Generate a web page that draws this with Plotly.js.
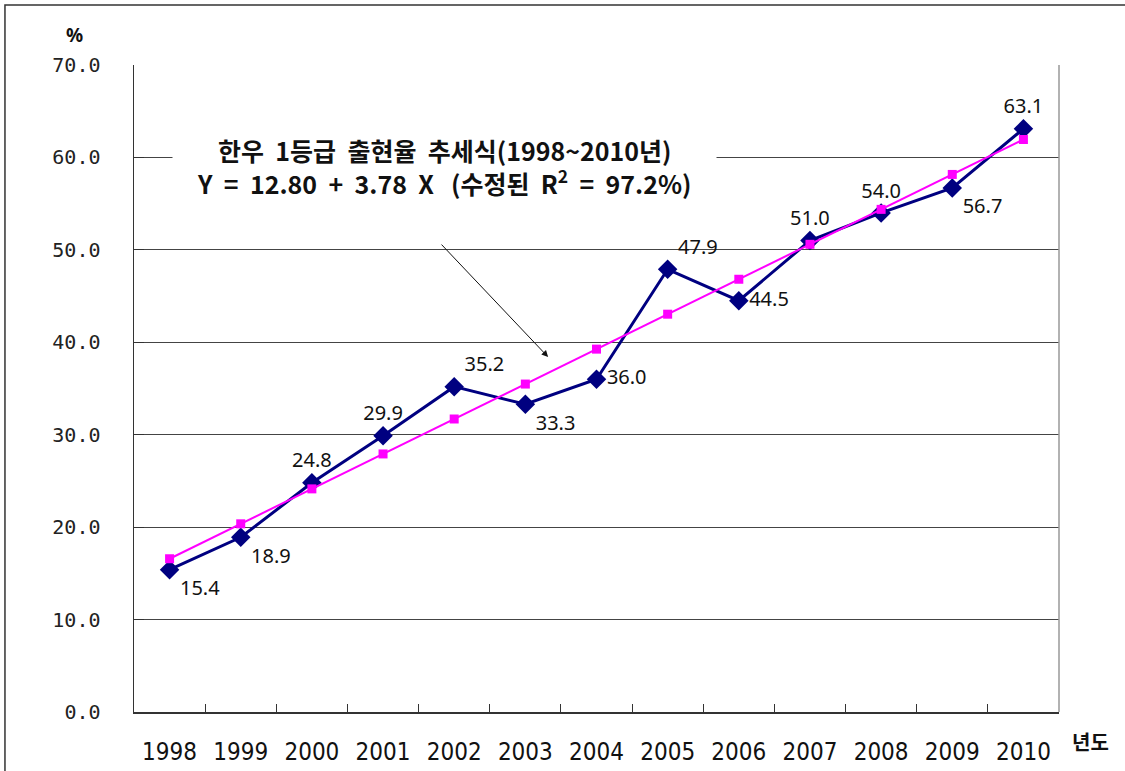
<!DOCTYPE html>
<html>
<head>
<meta charset="utf-8">
<script src="https://cdn.plot.ly/plotly-3.0.1.min.js"></script>
<style>html,body{margin:0;padding:0;background:#fff;}#chart{width:1125px;height:771px;}</style>
</head>
<body>
<div id="chart"></div>
<script>
const years = ['1998','1999','2000','2001','2002','2003','2004','2005','2006','2007','2008','2009','2010'];
const actualRate = [15.4, 18.9, 24.8, 29.9, 35.2, 33.3, 36.0, 47.9, 44.5, 51.0, 54.0, 56.7, 63.1];
const trendRate = [16.58, 20.36, 24.14, 27.92, 31.70, 35.48, 39.26, 43.04, 46.82, 50.60, 54.38, 58.16, 61.94];
const labelPositions = ['bottom right','bottom right','top center','top center','top right','bottom right','middle right','top right','middle right','top center','top center','bottom right','top center'];
const yTicks = [0, 10, 20, 30, 40, 50, 60, 70];
const nb = '\u00A0';
const titleLine1 = '한우' + nb + ' 1등급' + nb + ' 출현율' + nb + ' 추세식(1998~2010년)';
const titleLine2 = 'Y' + nb + ' =' + nb + ' 12.80' + nb + ' +' + nb + ' 3.78' + nb + ' X' + nb + nb + ' (수정된' + nb + ' R<sup>2</sup>' + nb + ' =' + nb + ' 97.2%)';

const actual = {
  x: years, y: actualRate, type: 'scatter', mode: 'lines+markers+text',
  line: {color: '#000080', width: 3},
  marker: {symbol: 'diamond', size: 15, color: '#000080'},
  text: actualRate.map(v => v.toFixed(1)),
  textposition: labelPositions,
  textfont: {family: 'Noto Sans, sans-serif', size: 20, color: '#111'},
  cliponaxis: false, hoverinfo: 'skip'
};
const trend = {
  x: years, y: trendRate, type: 'scatter', mode: 'lines+markers',
  line: {color: '#FF00FF', width: 2},
  marker: {symbol: 'square', size: 9, color: '#FF00FF'},
  hoverinfo: 'skip'
};

const layout = {
  width: 1125, height: 771,
  margin: {l: 134, r: 66, t: 65, b: 59},
  paper_bgcolor: '#fff', plot_bgcolor: '#fff',
  showlegend: false,
  xaxis: {
    type: 'category', range: [-0.5, 12.5], autorange: false,
    tickson: 'boundaries', ticks: 'inside', ticklen: 8,
    tickcolor: '#333', showline: true, linecolor: '#333', linewidth: 1.5,
    showgrid: false, ticklabelstandoff: 18,
    tickfont: {family: '"Liberation Sans Narrow", "DejaVu Sans Condensed", sans-serif', size: 24, color: '#111'}
  },
  yaxis: {
    range: [0, 70], autorange: false, tickvals: yTicks, tickformat: '.1f',
    ticks: 'inside', ticklen: 10, tickcolor: '#333',
    showline: true, linecolor: '#333', linewidth: 1.5,
    showgrid: true, gridcolor: '#444', gridwidth: 1, zeroline: false,
    ticklabelstandoff: 28,
    tickfont: {family: '"DejaVu Sans Mono", "Liberation Mono", monospace', size: 20, color: '#222'}
  },
  shapes: [
    {type: 'line', xref: 'paper', yref: 'paper', x0: 1, x1: 1, y0: 0, y1: 1, line: {color: '#999', width: 1.5}},
    {type: 'rect', xref: 'paper', yref: 'paper', x0: -0.1395, x1: 1.2, y0: -0.2, y1: 1.0927, line: {color: '#333', width: 1.5}}
  ],
  annotations: [
    {xref: 'paper', yref: 'paper', x: -0.064, y: 1.046, text: '<b>%</b>', showarrow: false,
     font: {family: 'Noto Sans, sans-serif', size: 19, color: '#111'}, xanchor: 'center', yanchor: 'middle'},
    {xref: 'paper', yref: 'paper', x: 1.012, y: -0.045, text: '<b>년도</b>', showarrow: false,
     font: {family: '"Noto Sans CJK KR", sans-serif', size: 20, color: '#111'}, xanchor: 'left', yanchor: 'middle'},
    {xref: 'x', yref: 'y', x: 3.87, y: 59.0, text: '<b>' + titleLine1 + '</b><br><b>' + titleLine2 + '</b>',
     showarrow: false, bgcolor: '#fff', borderpad: 24,
     font: {family: '"Noto Sans CJK KR", sans-serif', size: 25, color: '#111'}, align: 'center', xanchor: 'center', yanchor: 'middle'},
    {xref: 'x', yref: 'y', x: 5.32, y: 38.4, text: '', showarrow: true, arrowhead: 2, arrowsize: 1.3,
     arrowwidth: 1, arrowcolor: '#111', ax: -108, ay: -114}
  ]
};

Plotly.newPlot('chart', [actual, trend], layout, {displayModeBar: false, staticPlot: true});
</script>
</body>
</html>
